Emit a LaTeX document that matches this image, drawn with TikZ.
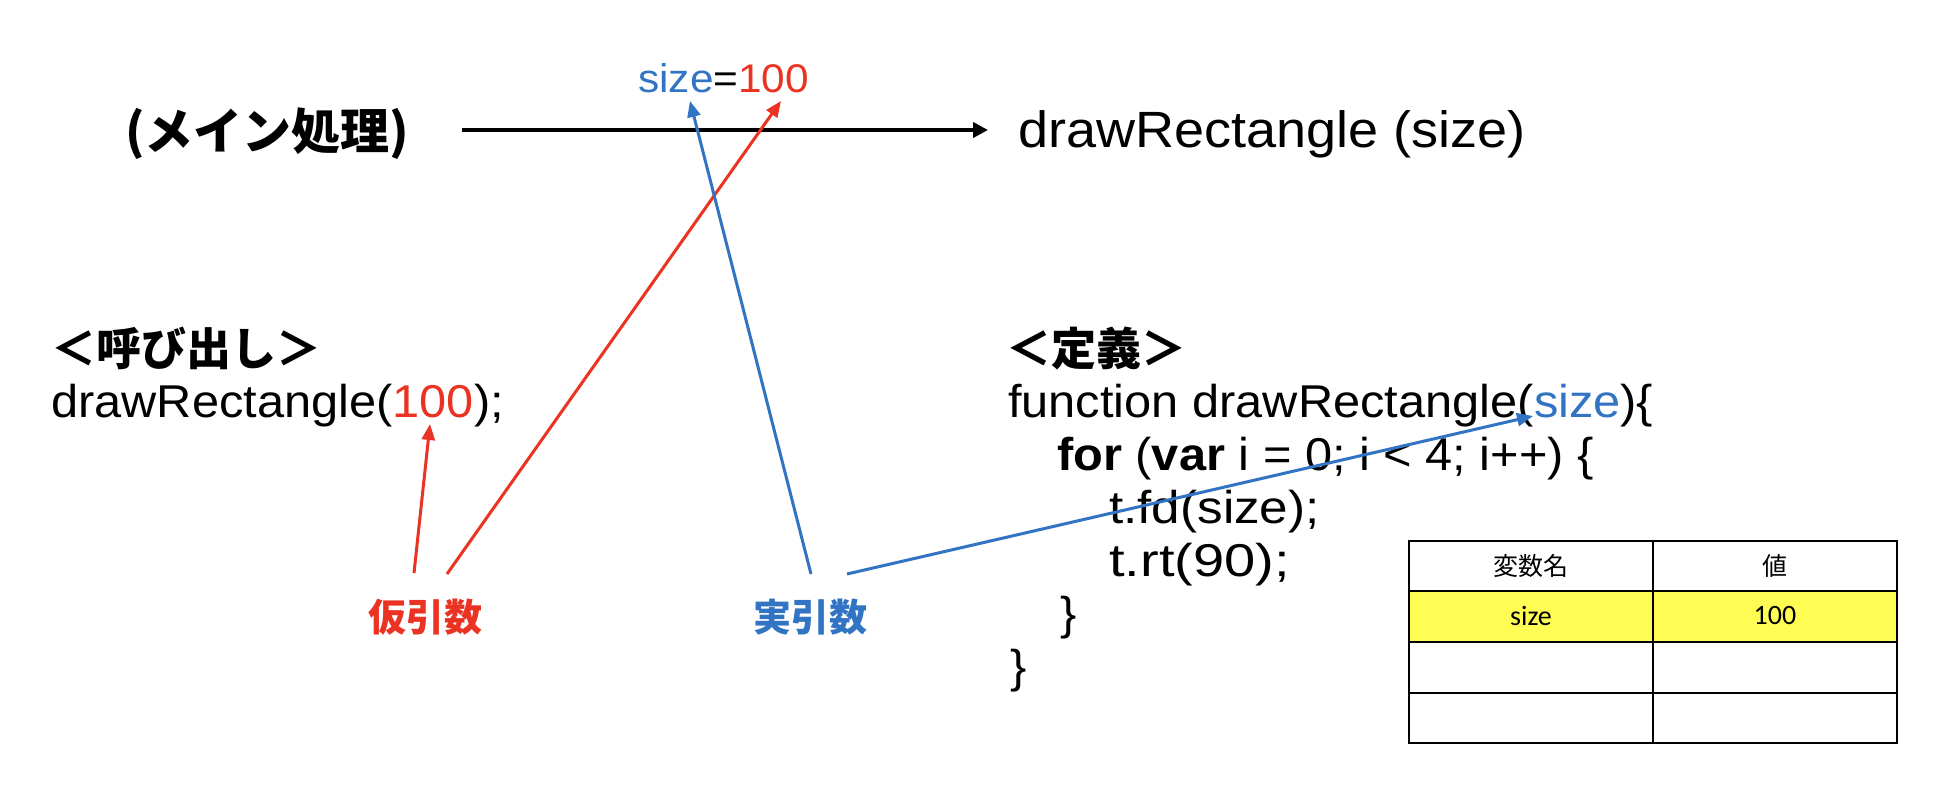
\documentclass[tikz,border=0pt]{standalone}
\usepackage{fontspec}
\usepackage{graphicx}
\usetikzlibrary{arrows.meta}
\newfontfamily\latfont{Liberation Sans}[FakeStretch=1.06]
\newfontfamily\jpfont{Noto Sans CJK JP}
\newfontfamily\tabfont{Carlito}
\definecolor{argred}{RGB}{234,51,35}
\definecolor{argblue}{RGB}{50,116,196}
\definecolor{rowyellow}{RGB}{255,253,84}
\tikzset{
  codetext/.style={anchor=base west, inner sep=0pt, font=\fontsize{46}{55}\selectfont\latfont},
  headtext/.style={anchor=base west, inner sep=0pt, font=\fontsize{45}{55}\selectfont\jpfont\bfseries},
  labeltext/.style={anchor=base west, inner sep=0pt, font=\fontsize{38}{45}\selectfont\jpfont\bfseries},
  argarrow/.style={line width=3pt, -{Triangle[length=16pt,width=13pt]}},
  mainarrow/.style={line width=4pt, -{Triangle[length=15pt,width=15pt]}},
  tabline/.style={line width=2.5pt},
  tabjp/.style={inner sep=0pt, font=\fontsize{25}{30}\selectfont\jpfont},
  tablat/.style={inner sep=0pt, font=\fontsize{28}{30}\selectfont\tabfont},
}
\begin{document}
\begin{tikzpicture}[x=1pt,y=-1pt]
\useasboundingbox[fill=white] (0,0) rectangle (1936,798);

% top row
\node[headtext, font=\fontsize{49}{55}\selectfont\jpfont\bfseries] (main) at (125,149) {(メイン処理)};
\node[codetext, font=\fontsize{51}{60}\selectfont\latfont] (callee) at (1018,147) {drawRectangle (size)};
\node[codetext, font=\fontsize{40}{45}\selectfont\latfont] (assign) at (638,92) {\textcolor{argblue}{size}=\textcolor{argred}{100}};
\coordinate (mstart) at (462,130);
\coordinate (mend) at (988,130);
\draw[mainarrow] (mstart) -- (mend);

% call side
\node[headtext] (callhead) at (51,365) {＜呼び出し＞};
\node[codetext] (callcode) at (51,417) {drawRectangle(\textcolor{argred}{100});};
\node[labeltext, text=argred] (formal) at (368,631) {仮引数};
\node[labeltext, text=argblue] (actual) at (753,631) {実引数};

% definition side
\node[headtext] (defhead) at (1006,365) {＜定義＞};
\node[codetext] (def1) at (1008,417) {function drawRectangle(\textcolor{argblue}{size})\{};
\node[codetext] (def2) at (1057,470) {\textbf{for} (\textbf{var} i = 0; i < 4; i++) \{};
\node[codetext] (def3) at (1109,523) {\scalebox{1.05}[1]{t.fd(size);}};
\node[codetext] (def4) at (1109,576) {\scalebox{1.15}[1]{t.rt(90);}};
\node[codetext] (def5) at (1060,629) {\}};
\node[codetext] (def6) at (1010,682) {\}};

% argument arrows
\coordinate (f1s) at (414,573);
\coordinate (f1e) at (430,424);
\coordinate (f2s) at (447,574);
\coordinate (f2e) at (781,101);
\coordinate (a1s) at (811,574);
\coordinate (a1e) at (690,101);
\coordinate (a2s) at (847,574);
\coordinate (a2e) at (1533,416);
\draw[argarrow, argred] (f1s) -- (f1e);
\draw[argarrow, argred] (f2s) -- (f2e);
\draw[argarrow, argblue] (a1s) -- (a1e);
\draw[argarrow, argblue] (a2s) -- (a2e);

% variable table
\fill[rowyellow] (1409,591) rectangle (1897,642);
\draw[tabline] (1409,541) rectangle (1897,743);
\draw[tabline] (1409,591) -- (1897,591);
\draw[tabline] (1409,642) -- (1897,642);
\draw[tabline] (1409,693) -- (1897,693);
\draw[tabline] (1653,541) -- (1653,743);
\node[tabjp] (h1) at (1531,566) {変数名};
\node[tabjp] (h2) at (1775,566) {値};
\node[tablat] (v1) at (1531,616) {size};
\node[tablat] (v2) at (1775,616) {100};
\end{tikzpicture}
\end{document}
